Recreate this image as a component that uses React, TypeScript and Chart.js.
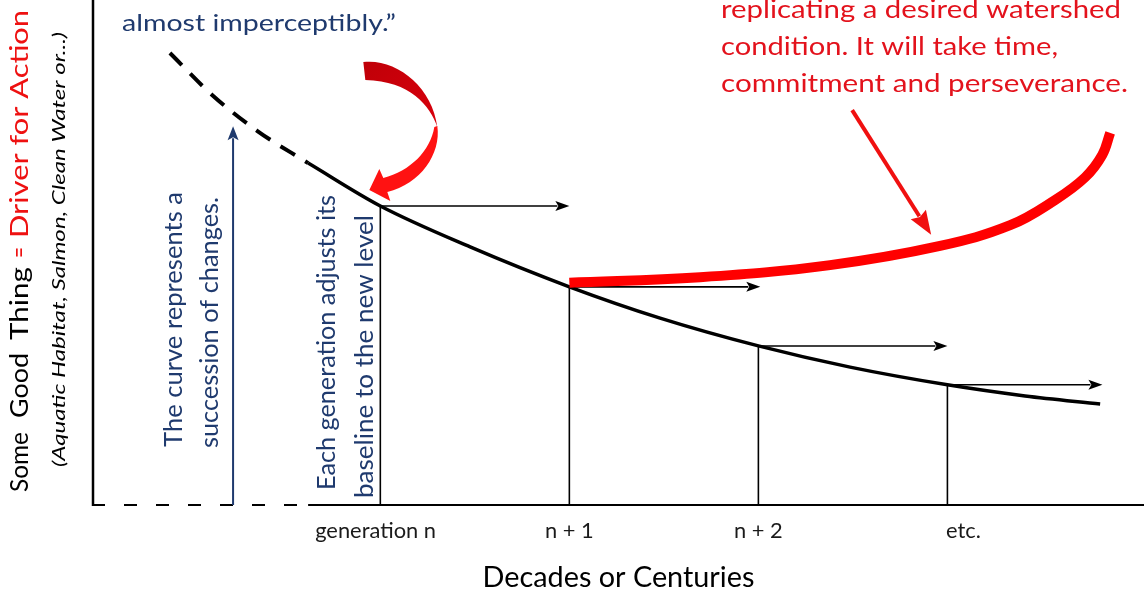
import React, { useEffect, useRef } from 'react';
import { Chart, registerables } from 'chart.js';

Chart.register(...registerables);

const FONT = 'Lato, "Open Sans", sans-serif';

// ---------------- data ----------------
const generationX = [1, 2, 3, 4];
const generationLabels = ['generation n', 'n + 1', 'n + 2', 'etc.'];
const generationLabelX = [0.975, 2, 3, 4.085];
const baselineLevel = [59.2, 43.2, 31.5, 23.8];
const baselineArrowEnd = [2.0, 3.01, 4.0, 4.82];

const pastCurveX = [-0.113, 0.11, 0.348, 0.618];
const pastCurveY = [89.5, 81.2, 74.1, 67.7];

const curveX = [0.618, 1.0, 1.475, 2.0, 2.48, 3.0, 3.485, 4.0, 4.411, 4.808];
const curveY = [67.7, 59.2, 51.1, 43.2, 37.0, 31.5, 27.3, 23.8, 21.6, 20.0];

const restoreX = [2.0, 2.692, 3.379, 3.961, 4.332, 4.57, 4.729, 4.819, 4.861];
const restoreY = [44.0, 45.1, 47.5, 51.3, 55.4, 60.4, 64.9, 69.3, 73.7];

const perceptionArrowX = [0.221, 0.221];
const perceptionArrowY = [0, 75.0];
const effortArrowX = [3.496, 3.914];
const effortArrowY = [78.2, 53.5];

const xAxisTitle = 'Decades or Centuries';
const yTitleParts = ['Some', 'Good', 'Thing', '=', 'Driver for Action'];
const ySubtitle = '(Aquatic Habitat, Salmon, Clean Water or...)';
const quoteText = 'almost imperceptibly.\u201d';
const effortText = ['replicating a desired watershed', 'condition. It will take time,', 'commitment and perseverance.'];
const curveNote = ['The curve represents a', 'succession of changes.'];
const generationNote = ['Each generation adjusts its', 'baseline to the new level'];

// ---------------- styles / layout ----------------
const NAVY = '#1f3a6e';
const RED_TEXT = '#e3121c';
const RED = '#ff0000';

function fitSize(text: string, target: number) {
  const c = document.createElement('canvas').getContext('2d') as CanvasRenderingContext2D;
  c.font = `100px ${FONT}`;
  return (100 * target) / c.measureText(text).width;
}

function stretchText(
  ctx: CanvasRenderingContext2D,
  text: string,
  x: number,
  y: number,
  size: number,
  targetW: number,
  color: string,
  rotate = false,
  italic = false
) {
  ctx.save();
  ctx.translate(x, y);
  if (rotate) ctx.rotate(-Math.PI / 2);
  ctx.font = `${italic ? 'italic ' : ''}${size}px ${FONT}`;
  const w = ctx.measureText(text).width;
  ctx.scale(targetW / w, 1);
  ctx.fillStyle = color;
  ctx.textAlign = 'left';
  ctx.textBaseline = 'alphabetic';
  ctx.fillText(text, 0, 0);
  ctx.restore();
}

function arrow(
  ctx: CanvasRenderingContext2D,
  x1: number,
  y1: number,
  x2: number,
  y2: number,
  width: number,
  headLen: number,
  headHalf: number,
  color: string
) {
  const a = Math.atan2(y2 - y1, x2 - x1);
  const c = Math.cos(a);
  const s = Math.sin(a);
  const bx = x2 - headLen * c;
  const by = y2 - headLen * s;
  ctx.save();
  ctx.strokeStyle = color;
  ctx.fillStyle = color;
  ctx.lineWidth = width;
  ctx.beginPath();
  ctx.moveTo(x1, y1);
  ctx.lineTo(bx + 2 * c, by + 2 * s);
  ctx.stroke();
  ctx.beginPath();
  ctx.moveTo(x2, y2);
  ctx.lineTo(bx - headHalf * s, by + headHalf * c);
  ctx.lineTo(bx + 3 * c, by + 3 * s);
  ctx.lineTo(bx + headHalf * s, by - headHalf * c);
  ctx.closePath();
  ctx.fill();
  ctx.restore();
}

const diagramPlugin = {
  id: 'diagram',
  beforeDatasetsDraw(chart: any) {
    const { ctx, chartArea, scales } = chart;
    const x = scales.x;
    const y = scales.y;
    const y0 = y.getPixelForValue(0);
    const solidFrom = x.getPixelForValue(pastCurveX[pastCurveX.length - 1]);
    ctx.save();
    ctx.strokeStyle = '#000';
    ctx.lineWidth = 2.5;
    ctx.beginPath();
    ctx.moveTo(chartArea.left, chartArea.top);
    ctx.lineTo(chartArea.left, y0 + 1);
    ctx.stroke();
    ctx.lineWidth = 2;
    ctx.setLineDash([13, 19]);
    ctx.beginPath();
    ctx.moveTo(chartArea.left - 1, y0);
    ctx.lineTo(solidFrom, y0);
    ctx.stroke();
    ctx.setLineDash([]);
    ctx.beginPath();
    ctx.moveTo(solidFrom, y0);
    ctx.lineTo(chartArea.right, y0);
    ctx.stroke();
    ctx.lineWidth = 1.6;
    generationX.forEach((g, i) => {
      const px = x.getPixelForValue(g);
      ctx.beginPath();
      ctx.moveTo(px, y.getPixelForValue(baselineLevel[i]));
      ctx.lineTo(px, y0);
      ctx.stroke();
    });
    ctx.restore();
    generationX.forEach((g, i) => {
      const py = y.getPixelForValue(baselineLevel[i]);
      arrow(ctx, x.getPixelForValue(g), py, x.getPixelForValue(baselineArrowEnd[i]), py, 1.6, 14, 5, '#000');
    });
  },
  afterDatasetsDraw(chart: any) {
    const { ctx, scales } = chart;
    const x = scales.x;
    const y = scales.y;
    // blue perception arrow
    arrow(
      ctx,
      x.getPixelForValue(perceptionArrowX[0]),
      y.getPixelForValue(perceptionArrowY[0]),
      x.getPixelForValue(perceptionArrowX[1]),
      y.getPixelForValue(perceptionArrowY[1]),
      2,
      14,
      5.5,
      NAVY
    );
    // red effort arrow
    arrow(
      ctx,
      x.getPixelForValue(effortArrowX[0]),
      y.getPixelForValue(effortArrowY[0]),
      x.getPixelForValue(effortArrowX[1]),
      y.getPixelForValue(effortArrowY[1]),
      4,
      24,
      9,
      '#f01010'
    );
    // curved red arrow pointing at generation n
    const px = x.getPixelForValue(generationX[0]);
    const py = y.getPixelForValue(baselineLevel[0]);
    ctx.save();
    ctx.translate(px, py);
    const g1 = ctx.createLinearGradient(-17, -140, 57, -80);
    g1.addColorStop(0, '#c00008');
    g1.addColorStop(1, '#d8000c');
    ctx.fillStyle = g1;
    ctx.beginPath();
    ctx.moveTo(-17, -144);
    ctx.bezierCurveTo(15, -148, 52, -120, 57, -79);
    ctx.bezierCurveTo(50, -100, 30, -125, -15, -126);
    ctx.closePath();
    ctx.fill();
    ctx.fillStyle = '#ff1212';
    ctx.beginPath();
    ctx.moveTo(57, -80);
    ctx.bezierCurveTo(61, -52, 40, -22, 7, -14);
    ctx.lineTo(10, -5);
    ctx.lineTo(-11, -16);
    ctx.lineTo(-1, -37);
    ctx.lineTo(3, -28);
    ctx.bezierCurveTo(30, -35, 50, -55, 54, -79);
    ctx.closePath();
    ctx.fill();
    ctx.restore();
  },
  afterDraw(chart: any) {
    const { ctx } = chart;
    // y-axis title (rotated)
    const yTitleLayout = [
      { start: 492, len: 60, color: '#000' },
      { start: 418, len: 65, color: '#000' },
      { start: 340, len: 73, color: '#000' },
      { start: 258, len: 11, color: '#ee1111' },
      { start: 238, len: 228, color: '#ee1111' },
    ];
    yTitleParts.forEach((t, i) => {
      const l = yTitleLayout[i];
      stretchText(ctx, t, 28, l.start, 25, l.len, l.color, true);
    });
    stretchText(ctx, ySubtitle, 65, 467, 18, 435, '#000', true, true);

    // top-left quote
    stretchText(ctx, quoteText, 122, 31, 24, 274, NAVY);

    // red text, top right
    const effortLayout = [
      { y: 18, w: 400 },
      { y: 55, w: 337 },
      { y: 92, w: 407 },
    ];
    effortText.forEach((t, i) => stretchText(ctx, t, 721, effortLayout[i].y, 25, effortLayout[i].w, RED_TEXT));

    // rotated blue notes
    const noteLayout = [
      { bx: 182, start: 447, len: 255 },
      { bx: 218, start: 448, len: 251 },
      { bx: 335, start: 490, len: 295 },
      { bx: 373, start: 498, len: 283 },
    ];
    [...curveNote, ...generationNote].forEach((t, i) => {
      const l = noteLayout[i];
      stretchText(ctx, t, l.bx, l.start, 25, l.len, NAVY, true);
    });
  },
};

export default function App() {
  const ref = useRef<HTMLCanvasElement | null>(null);

  useEffect(() => {
    document.body.style.margin = '0';
    if (!ref.current) return;
    const tickSize = fitSize('generation n', 121);
    const titleSize = fitSize(xAxisTitle, 272);

    const chart = new Chart(ref.current, {
      type: 'line',
      data: {
        datasets: [
          {
            data: restoreX.map((v, i) => ({ x: v, y: restoreY[i] })),
            borderColor: RED,
            borderWidth: 10,
            borderCapStyle: 'butt',
            borderJoinStyle: 'round',
            tension: 0.4,
            pointRadius: 0,
            fill: false,
            order: 0,
          },
          {
            data: curveX.map((v, i) => ({ x: v, y: curveY[i] })),
            borderColor: '#000',
            borderWidth: 3.5,
            cubicInterpolationMode: 'monotone',
            pointRadius: 0,
            fill: false,
            order: 1,
          },
          {
            data: pastCurveX.map((v, i) => ({ x: v, y: pastCurveY[i] })),
            borderColor: '#000',
            borderWidth: 4,
            borderDash: [17, 12],
            borderCapStyle: 'butt',
            cubicInterpolationMode: 'monotone',
            pointRadius: 0,
            fill: false,
            order: 2,
          },
        ],
      },
      options: {
        animation: false,
        responsive: false,
        devicePixelRatio: 1,
        events: [],
        layout: { padding: { left: 93, right: 0, top: 0, bottom: 0 } },
        plugins: {
          legend: { display: false },
          tooltip: { enabled: false },
          title: { display: false },
        },
        scales: {
          x: {
            type: 'linear',
            min: -0.52,
            max: 5.04,
            position: 'bottom',
            grid: { display: false, drawTicks: false, drawOnChartArea: false },
            border: { display: false },
            afterBuildTicks: (s: any) => {
              s.ticks = generationLabelX.map((v) => ({ value: v }));
            },
            afterFit: (s: any) => {
              s.height = 85;
            },
            ticks: {
              autoSkip: false,
              maxRotation: 0,
              minRotation: 0,
              padding: 16,
              color: '#1a1a1a',
              font: { family: FONT, size: tickSize, lineHeight: '20px' },
              callback: (_v: any, i: number) => generationLabels[i],
            },
            title: {
              display: true,
              text: xAxisTitle,
              color: '#000',
              padding: 0,
              font: { family: FONT, size: titleSize, lineHeight: '24px' },
            },
          },
          y: { type: 'linear', min: 0, max: 100, display: false },
        },
      } as any,
      plugins: [diagramPlugin as any],
    });
    return () => chart.destroy();
  }, []);

  return <canvas ref={ref} width={1144} height={590} style={{ display: 'block' }} />;
}
